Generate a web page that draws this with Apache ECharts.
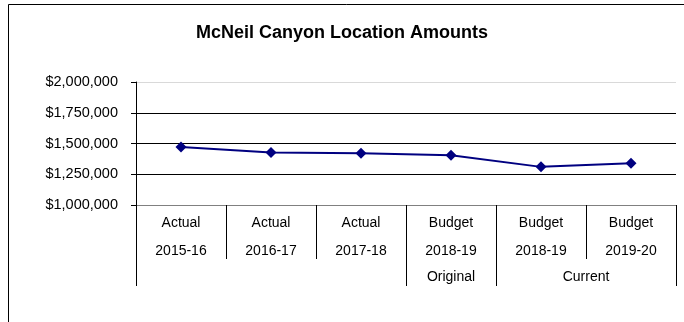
<!DOCTYPE html>
<html>
<head>
<meta charset="utf-8">
<script src="https://cdn.jsdelivr.net/npm/echarts@6/dist/echarts.min.js"></script>
<style>
  html, body { margin: 0; padding: 0; background: #ffffff; }
  #chart { width: 684px; height: 322px; }
</style>
</head>
<body>
<div id="chart"></div>
<script>
// Category table rows under the plot
const categoryGroups = ['Actual', 'Actual', 'Actual', 'Budget', 'Budget', 'Budget'];
const fiscalYears = ['2015-16', '2016-17', '2017-18', '2018-19', '2018-19', '2019-20'];
const budgetVersions = ['', 'Original', 'Current'];
const budgetVersionSpans = [3, 1, 2];

// Location amounts per column
const amounts = [1472000, 1427000, 1421000, 1405000, 1310000, 1340000];

// Value axis range
const yMin = 1000000;
const yMax = 2000000;
const yStep = 250000;

const FONT = 'Arial, "Liberation Sans", sans-serif';

// Boundaries and centres of the bottom row groups, in column units
const versionBounds = [0];
budgetVersionSpans.forEach(s => versionBounds.push(versionBounds[versionBounds.length - 1] + s));
const versionCentres = budgetVersionSpans.map((s, i) => versionBounds[i] + s / 2);
const versionTickBounds = versionBounds.filter((b, i) => i === 0 || i === versionBounds.length - 1 || budgetVersions[i - 1] !== '' || budgetVersions[i] !== '');

const chart = echarts.init(document.getElementById('chart'), null, { renderer: 'canvas' });

chart.setOption({
  animation: false,
  backgroundColor: '#ffffff',
  title: {
    text: 'McNeil Canyon Location Amounts',
    left: 'center',
    top: 24,
    padding: [0, 0, 0, 14],
    textStyle: { fontFamily: FONT, fontSize: 18, fontWeight: 'bold', color: '#000' }
  },
  graphic: [{
    type: 'rect',
    shape: { x: 8.5, y: 4.5, width: 800, height: 500 },
    style: { fill: null, stroke: '#000', lineWidth: 1 },
    silent: true
  }],
  grid: { left: 136, right: 8, top: 82, bottom: 117, containLabel: false },
  xAxis: [{
    type: 'category',
    position: 'bottom',
    data: categoryGroups.map((g, i) => g + '\n' + fiscalYears[i]),
    boundaryGap: true,
    axisLine: { show: true, lineStyle: { color: '#808080', width: 1 } },
    axisTick: { show: true, interval: 0, length: 54, lineStyle: { color: '#000', width: 1 } },
    axisLabel: {
      interval: 0, margin: 4, lineHeight: 28,
      fontFamily: FONT, fontSize: 14, color: '#000'
    },
    splitLine: { show: false }
  }, {
    type: 'value',
    position: 'bottom',
    offset: 54,
    min: 0,
    max: categoryGroups.length,
    axisLine: { show: false },
    axisTick: { show: true, customValues: versionTickBounds, length: 27, lineStyle: { color: '#000', width: 1 } },
    axisLabel: {
      customValues: versionCentres,
      formatter: v => {
        const i = versionCentres.indexOf(v);
        return i >= 0 ? budgetVersions[i] : '';
      },
      margin: 10, lineHeight: 16,
      fontFamily: FONT, fontSize: 14, color: '#000'
    },
    splitLine: { show: false }
  }],
  yAxis: {
    type: 'value',
    min: yMin,
    max: yMax,
    interval: yStep,
    axisLine: { show: true, lineStyle: { color: '#000', width: 1 } },
    axisTick: { show: true, length: 5, lineStyle: { color: '#000' } },
    axisLabel: {
      margin: 18,
      fontFamily: FONT, fontSize: 14.5, color: '#000',
      formatter: v => '$' + v.toLocaleString('en-US')
    },
    splitLine: {
      show: true,
      lineStyle: { color: ['#808080', '#000', '#000', '#000', '#d9d9d9'], width: 1 }
    }
  },
  series: [{
    type: 'line',
    xAxisIndex: 0,
    data: amounts,
    symbol: 'diamond',
    symbolSize: 11,
    itemStyle: { color: '#000080' },
    lineStyle: { color: '#000080', width: 2 }
  }]
});
</script>
</body>
</html>
